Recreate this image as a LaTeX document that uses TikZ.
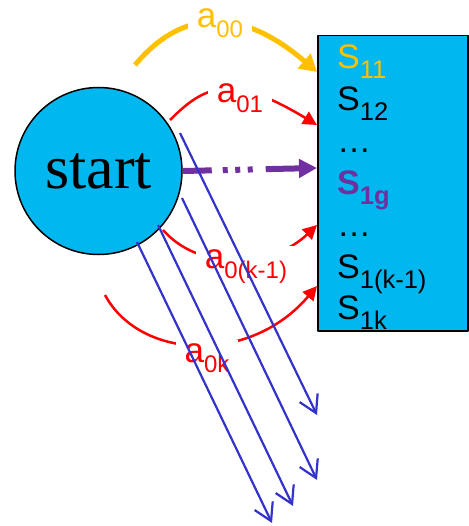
\documentclass[tikz,border=0pt]{standalone}
\usepackage{fontspec}
\setmainfont{Liberation Sans}
\newfontfamily\startfont{Liberation Serif}
\usetikzlibrary{arrows.meta}
\definecolor{boxcyan}{RGB}{0,183,240}
\definecolor{goldarc}{RGB}{255,192,0}
\definecolor{violetg}{RGB}{112,48,160}
\definecolor{arrowblue}{RGB}{51,51,204}
\newcommand{\sbs}[1]{\raisebox{-10pt}{\fontsize{24}{24}\selectfont #1}}
\newcommand{\ssbs}[1]{\raisebox{-10pt}{\fontsize{25.5}{25.5}\selectfont #1}}
\tikzset{
  state/.style={anchor=base west,inner sep=0pt,font=\fontsize{34}{34}\selectfont},
  lbl/.style={anchor=base,fill=white,inner xsep=9pt,inner ysep=3pt,font=\fontsize{35}{35}\selectfont},
  redarc/.style={red,line width=2.5pt,-{Triangle[length=14pt,width=14pt]}},
  blueline/.style={arrowblue,line width=2.2pt,-{Straight Barb[length=17pt,width=20pt]}},
}
\begin{document}
\begin{tikzpicture}[x=1pt,y=-1pt,line join=round]
  \useasboundingbox (0,0) rectangle (468,526);
  \node[draw,line width=1.5pt,fill=boxcyan,anchor=north west,minimum width=150pt,minimum height=295pt] (box) at (317,35) {};
  \node[circle,draw,line width=1.5pt,fill=boxcyan,minimum size=167pt,inner sep=0pt,font=\startfont\fontsize{62}{62}\selectfont] (start) at (98.5,171) {start};
  % states in the box
  \node[state,text=goldarc] (s11) at (337,69) {S\ssbs{11}};
  \node[state] (s12) at (337,110.8) {S\ssbs{12}};
  \node[state] (dots1) at (337,152.6) {…};
  \node[state,text=violetg,font=\fontsize{34}{34}\selectfont\bfseries] (s1g) at (337,194.4) {S\ssbs{1g}};
  \node[state] (dots2) at (337,236.2) {…};
  \node[state] (s1km) at (337,278) {S\ssbs{1(k-1)}};
  \node[state] (s1k) at (337,319.8) {S\ssbs{1k}};
  % ends of the arcs
  \coordinate (g0) at (135,65);
  \coordinate (g1) at (317,72);
  \coordinate (r0) at (170,120);
  \coordinate (r1) at (317,125);
  \coordinate (p1) at (317,168);
  \coordinate (q0) at (163,230);
  \coordinate (q1) at (317,225);
  \coordinate (k0) at (105,295);
  \coordinate (k1) at (317,286);
  \draw[goldarc,line width=5pt,-{Triangle[length=17pt,width=19pt]}] (g0) .. controls (185,5) and (245,10) .. (g1);
  \draw[redarc] (r0) .. controls (205,85) and (231,73) .. (r1);
  \draw[violetg,line width=6pt,dash pattern=on 29pt off 11pt on 5pt off 7.5pt on 5pt off 7.5pt on 5pt off 13pt on 80pt,-{Triangle[length=18pt,width=18pt]}] (start.east) -- (p1);
  \draw[redarc] (q0) .. controls (200,272) and (272,268) .. (q1);
  \draw[redarc] (k0) .. controls (140,360) and (250,365) .. (k1);
  % labels
  \node[lbl,text=goldarc] (a00) at (220,28) {a\sbs{00}};
  \node[lbl,text=red] (a01) at (240,103) {a\sbs{01}};
  \node[lbl,text=red] (a0km) at (246,268) {a\sbs{0(k-1)}};
  \node[lbl,text=red] (a0k) at (207,362) {a\sbs{0k}};
  % parallel blue arrows
  \coordinate (b1) at (180,133);
  \coordinate (e1) at (317,415);
  \coordinate (b2) at (182,198);
  \coordinate (e2) at (317,480);
  \coordinate (b3) at (158,225);
  \coordinate (e3) at (293,506);
  \coordinate (b4) at (137,242);
  \coordinate (e4) at (272,523);
  \draw[blueline] (b1) -- (e1);
  \draw[blueline] (b2) -- (e2);
  \draw[blueline] (b3) -- (e3);
  \draw[blueline] (b4) -- (e4);
\end{tikzpicture}
\end{document}
